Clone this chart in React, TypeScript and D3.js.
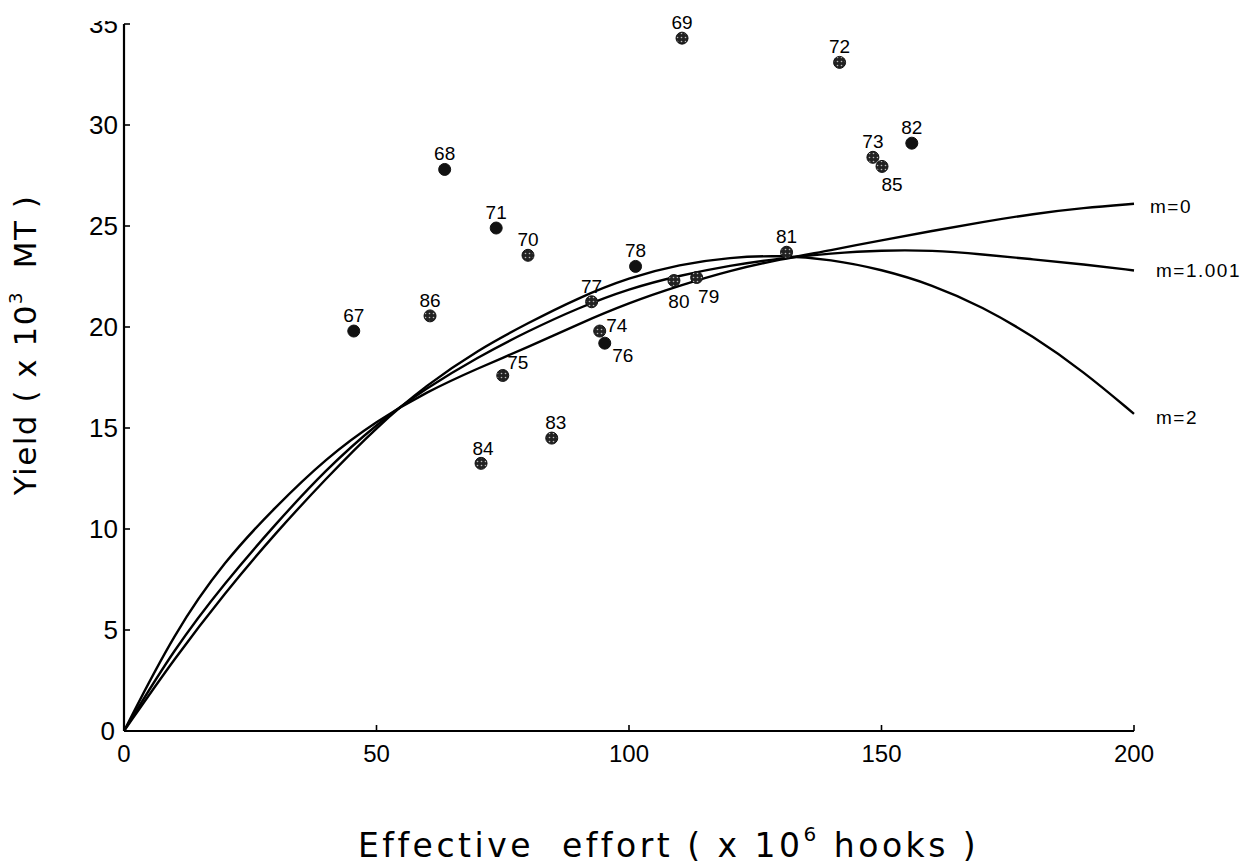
import React from 'react';
import * as d3 from 'd3';

// observed catches, 1967-1986
const years = [67, 68, 69, 70, 71, 72, 73, 74, 75, 76, 77, 78, 79, 80, 81, 82, 83, 84, 85, 86];
const effort = [45.5, 63.5, 110.5, 80.0, 73.7, 141.7, 148.3, 94.2, 75.0, 95.2, 92.6, 101.3, 113.4, 108.9, 131.2, 156.0, 84.7, 70.7, 150.1, 60.6];
const catches = [19.8, 27.8, 34.3, 23.55, 24.9, 33.1, 28.4, 19.8, 17.6, 19.2, 21.25, 23.0, 22.45, 22.3, 23.7, 29.1, 14.5, 13.25, 27.95, 20.55];
const solidYears = [67, 68, 71, 76, 78, 82];

// fitted curves
const curveEffort = [0, 10, 20, 30, 40, 50, 60, 70, 80, 90, 100, 110, 120, 130, 140, 150, 160, 170, 180, 190, 200];
const yieldM0 = [0, 4.9, 8.45, 11.1, 13.5, 15.35, 16.8, 17.95, 19.0, 20.15, 21.2, 22.05, 22.8, 23.35, 23.8, 24.3, 24.75, 25.2, 25.6, 25.9, 26.1];
const yieldM1 = [0, 4.1, 7.35, 10.25, 12.95, 15.2, 17.0, 18.5, 19.8, 20.95, 21.9, 22.55, 23.05, 23.4, 23.65, 23.8, 23.8, 23.6, 23.35, 23.1, 22.8];
const yieldM2 = [0, 3.6, 6.85, 9.8, 12.5, 15.05, 17.15, 18.85, 20.2, 21.45, 22.45, 23.1, 23.45, 23.55, 23.35, 22.85, 22.1, 21.0, 19.55, 17.8, 15.7];
const curveNames = ['m=0', 'm=1.001', 'm=2'];

const xTicks = [0, 50, 100, 150, 200];
const yTicks = [0, 5, 10, 15, 20, 25, 30, 35];

// label offsets (dx, dy to baseline) for points not labelled straight above
const labelOffset: Record<number, [number, number]> = {
  74: [17, 1],
  75: [15, -6],
  76: [18, 19],
  79: [12, 25],
  80: [5, 27],
  83: [4, -9],
  84: [2, -8],
  85: [10, 25],
};

const font = '"Liberation Sans", Arial, sans-serif';

export default function App() {
  const x = d3.scaleLinear().domain([0, 200]).range([124, 1134]);
  const y = d3.scaleLinear().domain([0, 35]).range([731, 24]);

  const line = d3
    .line<number>()
    .x((_, i) => x(curveEffort[i]))
    .y((d) => y(d))
    .curve(d3.curveBasis);

  const curves = [yieldM0, yieldM1, yieldM2];
  const labelShift = [[16, 9], [22, 7], [22, 10]];

  return (
    <svg
      width={1250}
      height={864}
      style={{ position: 'absolute', left: 0, top: 0, background: '#fff' }}
    >
      <defs>
        <clipPath id="ytop">
          <rect x={0} y={21} width={1250} height={843} />
        </clipPath>
        <pattern id="speck" width={4} height={4} patternUnits="userSpaceOnUse">
          <rect width={4} height={4} fill="#222" />
          <circle cx={1.5} cy={1.5} r={0.8} fill="#bbb" />
        </pattern>
      </defs>

      {/* axes */}
      <line x1={x(0)} x2={x(200)} y1={y(0)} y2={y(0)} stroke="#000" strokeWidth={2.2} />
      <line x1={x(0)} x2={x(0)} y1={y(0)} y2={y(35)} stroke="#000" strokeWidth={2.2} />
      {xTicks.slice(1).map((t) => (
        <line key={'xt' + t} x1={x(t)} x2={x(t)} y1={y(0)} y2={y(0) - 6} stroke="#000" strokeWidth={1.6} />
      ))}
      {yTicks.slice(1).map((t) => (
        <line key={'yt' + t} x1={x(0)} x2={x(0) + 6} y1={y(t)} y2={y(t)} stroke="#000" strokeWidth={1.6} />
      ))}
      {xTicks.map((t) => (
        <text key={'xl' + t} x={x(t)} y={y(0) + 31} textAnchor="middle" fontFamily={font} fontSize={24}>
          {t}
        </text>
      ))}
      <g clipPath="url(#ytop)">
        {yTicks.map((t) => (
          <text
            key={'yl' + t}
            x={t === 0 ? x(0) - 9 : x(0) - 6}
            y={y(t) + 9}
            textAnchor="end"
            fontFamily={font}
            fontSize={26}
          >
            {t}
          </text>
        ))}
      </g>

      {/* axis titles */}
      <text x={358} y={857} fontFamily='"DejaVu Sans", sans-serif' fontSize={33} letterSpacing={3.5} style={{ whiteSpace: 'pre' }}>
        {'Effective  effort ( x 10'}
        <tspan fontSize={20} dy={-16}>6</tspan>
        <tspan dy={16}>{' hooks )'}</tspan>
      </text>
      <text
        transform="translate(36,345) rotate(-90)"
        textAnchor="middle"
        fontFamily='"DejaVu Sans", sans-serif'
        fontSize={31}
        letterSpacing={1.5}
        style={{ whiteSpace: 'pre' }}
      >
        {'Yield ( x 10'}
        <tspan fontSize={18} dy={-14}>3</tspan>
        <tspan dy={14}>{'  MT )'}</tspan>
      </text>

      {/* fitted curves */}
      {curves.map((c, i) => (
        <g key={curveNames[i]}>
          <path d={line(c) ?? ''} fill="none" stroke="#000" strokeWidth={2.4} />
          <text
            x={x(200) + labelShift[i][0]}
            y={y(c[c.length - 1]) + labelShift[i][1]}
            fontFamily={font}
            fontSize={19}
            letterSpacing={1.5}
          >
            {curveNames[i]}
          </text>
        </g>
      ))}

      {/* observations */}
      {years.map((yr, i) => {
        const px = x(effort[i]);
        const py = y(catches[i]);
        const off = labelOffset[yr] ?? [0, -9];
        const solid = solidYears.includes(yr);
        return (
          <g key={yr}>
            <circle cx={px} cy={py} r={6} fill={solid ? '#111' : 'url(#speck)'} stroke="#111" strokeWidth={1} />
            <text
              x={px + off[0]}
              y={py + off[1]}
              textAnchor="middle"
              fontFamily={font}
              fontSize={19}
            >
              {yr}
            </text>
          </g>
        );
      })}
    </svg>
  );
}
